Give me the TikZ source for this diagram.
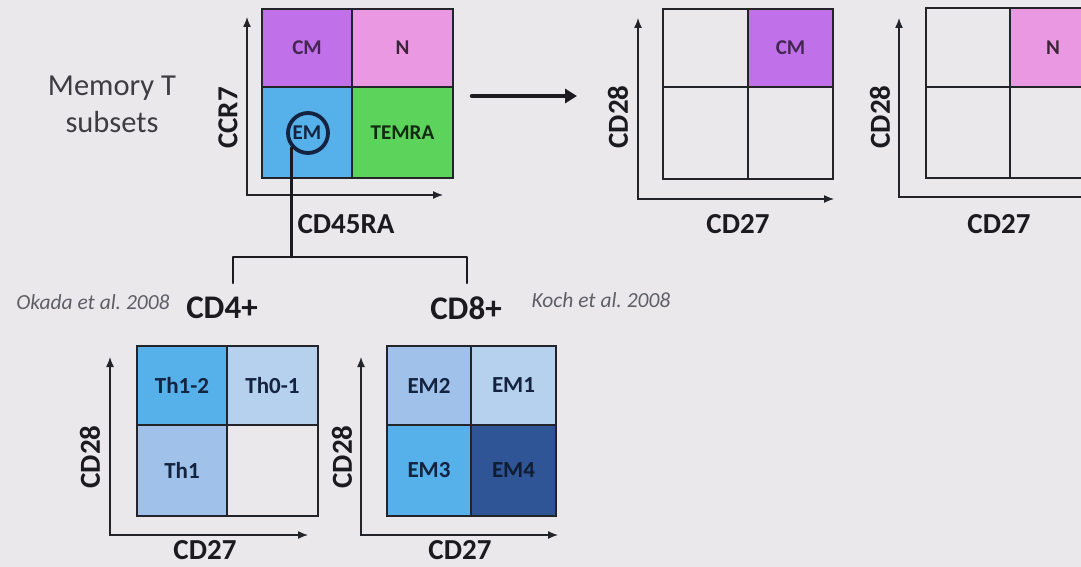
\documentclass[tikz,border=0pt]{standalone}
\usepackage{fontspec}
\setmainfont{Carlito}
\usetikzlibrary{arrows.meta}
\definecolor{mtbg}{HTML}{EAE8EB}
\definecolor{mtink}{HTML}{1B1B1F}
\definecolor{mtline}{HTML}{23242A}
\definecolor{mtgrey}{HTML}{5E5E66}
\definecolor{mtcm}{HTML}{C070E8}
\definecolor{mtnaive}{HTML}{EB98E3}
\definecolor{mtem}{HTML}{56B0EA}
\definecolor{mttemra}{HTML}{5CD35A}
\definecolor{mtpale}{HTML}{B5D1EE}
\definecolor{mtmid}{HTML}{A0C2EA}
\definecolor{mtdeep}{HTML}{2F5596}
\definecolor{mtnavy}{HTML}{14233F}
\frenchspacing

\begin{document}
\begin{tikzpicture}[x=1pt,y=-1pt,line cap=round,
    quad/.style={draw=mtline,line width=1.8pt,inner sep=0pt,text=mtnavy,
      font=\fontsize{21}{23}\selectfont\bfseries},
    bigquad/.style={quad,font=\fontsize{23}{25}\selectfont\bfseries},
    axes/.style={mtline,line width=1.3pt,{Latex[length=10pt,width=8pt]}-{Latex[length=10pt,width=8pt]}},
    axlab/.style={text=mtink,font=\fontsize{29}{31}\selectfont\bfseries},
    cite/.style={text=mtgrey,font=\fontsize{21.5}{23}\selectfont\itshape}]
    \clip (0,0) rectangle (1081,567);
    \fill[mtbg] (0,0) rectangle (1081,567);
    % memory T subsets
    \node[text=mtink!85,align=center,font=\fontsize{30.5}{37}\selectfont] (title) at (112,104) {Memory T\\subsets};
    \node[quad,fill=mtcm,text=mtcm!35!black,minimum width=90pt,minimum height=78pt] (cm) at (307,48) {CM};
    \node[quad,fill=mtnaive,text=mtnaive!25!black,minimum width=101pt,minimum height=78pt] (naive) at (402.5,48) {N};
    \node[quad,fill=mtem,minimum width=90pt,minimum height=91pt] (em) at (307,132.5) {EM};
    \node[quad,fill=mttemra,text=mttemra!20!black,minimum width=101pt,minimum height=91pt] (temra) at (402.5,132.5) {TEMRA};
    \node[circle,draw=mtnavy,line width=3.8pt,minimum size=40pt] (emring) at (308,133) {};
    \coordinate (ax1y) at (247,17);
    \coordinate (ax1x) at (443,195);
    \draw[axes] (ax1y) |- (ax1x);
    \node[axlab,rotate=90] (ccr7) at (228,118) {CCR7};
    \node[axlab] (cd45ra) at (346,224) {CD45RA};
    % arrow to the CD27/CD28 plots
    \coordinate (go1) at (472,96);
    \coordinate (go2) at (577,96);
    \draw[mtink,line width=4.5pt,-{Triangle[length=12pt,width=14pt]}] (go1) -- (go2);
    % central memory
    \node[quad,minimum width=85pt,minimum height=78pt] (cma) at (705.5,48) {};
    \node[quad,fill=mtcm,text=mtcm!35!black,minimum width=85pt,minimum height=78pt] (cmb) at (790.5,48) {CM};
    \node[quad,minimum width=85pt,minimum height=92pt] (cmc) at (705.5,133) {};
    \node[quad,minimum width=85pt,minimum height=92pt] (cmd) at (790.5,133) {};
    \coordinate (ax2y) at (638,18);
    \coordinate (ax2x) at (834,199);
    \draw[axes] (ax2y) |- (ax2x);
    \node[axlab,rotate=90] (cd28a) at (618,117) {CD28};
    \node[axlab] (cd27a) at (738,224) {CD27};
    % naive
    \node[quad,minimum width=84pt,minimum height=79pt] (na) at (968,47.5) {};
    \node[quad,fill=mtnaive,text=mtnaive!25!black,minimum width=86pt,minimum height=79pt] (nb) at (1053,47.5) {N};
    \node[quad,minimum width=84pt,minimum height=91pt] (nc) at (968,132.5) {};
    \node[quad,minimum width=86pt,minimum height=91pt] (nd) at (1053,132.5) {};
    \coordinate (ax3y) at (899,18);
    \coordinate (ax3x) at (1110,197);
    \draw[axes] (ax3y) |- (ax3x);
    \node[axlab,rotate=90] (cd28b) at (880,117) {CD28};
    \node[axlab] (cd27b) at (999,224) {CD27};
    % split of EM into CD4+ and CD8+
    \coordinate (brtop) at (292,257);
    \coordinate (brl) at (233,283);
    \coordinate (brr) at (467,283);
    \draw[mtink,line width=2.5pt] (emring.222) -- (emring.222 |- brtop);
    \draw[mtink,line width=2.5pt,line join=round] (brl) -- ++(0,-26) -| (brr);
    \node[axlab,font=\fontsize{33}{35}\selectfont\bfseries] (cd4) at (222,308) {CD4+};
    \node[axlab,font=\fontsize{33}{35}\selectfont\bfseries] (cd8) at (466,308) {CD8+};
    \node[cite] (okada) at (93,302) {Okada et al. 2008};
    \node[cite] (koch) at (601,300) {Koch et al. 2008};
    % CD4+ subsets
    \node[bigquad,fill=mtem,minimum width=90pt,minimum height=79pt] (th12) at (182,385.5) {Th1-2};
    \node[bigquad,fill=mtpale,minimum width=91pt,minimum height=79pt] (th01) at (272.5,385.5) {Th0-1};
    \node[bigquad,fill=mtmid,minimum width=90pt,minimum height=91pt] (th1) at (182,470.5) {Th1};
    \node[bigquad,minimum width=91pt,minimum height=91pt] (thx) at (272.5,470.5) {};
    \coordinate (ax4y) at (110,357);
    \coordinate (ax4x) at (308,535);
    \draw[axes] (ax4y) |- (ax4x);
    \node[axlab,rotate=90] (cd28c) at (90,457) {CD28};
    \node[axlab] (cd27c) at (205,550) {CD27};
    % CD8+ subsets
    \node[bigquad,fill=mtmid,minimum width=84pt,minimum height=79pt] (em2) at (429,385.5) {EM2};
    \node[bigquad,fill=mtpale,minimum width=85pt,minimum height=79pt] (em1) at (513.5,385.5) {EM1};
    \node[bigquad,fill=mtem,minimum width=84pt,minimum height=91pt] (em3) at (429,470.5) {EM3};
    \node[bigquad,fill=mtdeep,text=mtnavy!80!black,minimum width=85pt,minimum height=91pt] (em4) at (513.5,470.5) {EM4};
    \coordinate (ax5y) at (361,357);
    \coordinate (ax5x) at (558,535);
    \draw[axes] (ax5y) |- (ax5x);
    \node[axlab,rotate=90] (cd28d) at (342,457) {CD28};
    \node[axlab] (cd27d) at (460,550) {CD27};
  \end{tikzpicture}
\end{document}
